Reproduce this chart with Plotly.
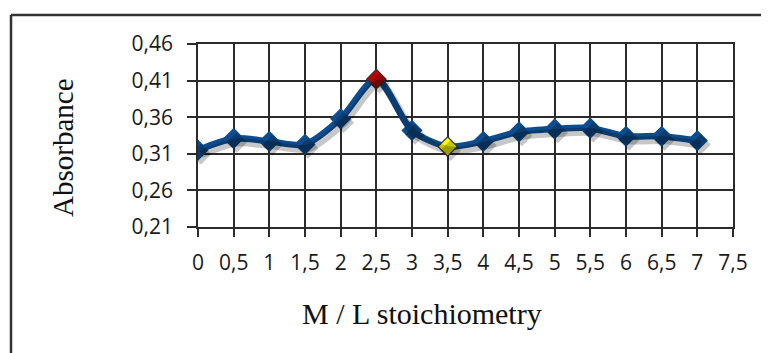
import plotly.graph_objects as go

# ---- data ----
ratio = [0, 0.5, 1, 1.5, 2, 2.5, 3, 3.5, 4, 4.5, 5, 5.5, 6, 6.5, 7]
absorbance = [0.315, 0.331, 0.327, 0.323, 0.358, 0.412, 0.342, 0.320,
              0.327, 0.340, 0.344, 0.345, 0.334, 0.334, 0.328]
highlight = {2.5: "#c00000", 3.5: "#ffff00"}

x_tick_vals = [0, 0.5, 1, 1.5, 2, 2.5, 3, 3.5, 4, 4.5, 5, 5.5, 6, 6.5, 7, 7.5]
x_tick_text = ["0", "0,5", "1", "1,5", "2", "2,5", "3", "3,5", "4", "4,5",
               "5", "5,5", "6", "6,5", "7", "7,5"]
y_tick_vals = [0.21, 0.26, 0.31, 0.36, 0.41, 0.46]
y_tick_text = ["0,21", "0,26", "0,31", "0,36", "0,41", "0,46"]

x_title = "M / L stoichiometry"
y_title = "Absorbance"

# ---- styling ----
OFF = 8                      # page body margin around the figure
W, H = 769 - OFF, 353 - OFF
L, T = 198 - OFF, 44 - OFF   # plot area in page coords: x 198..733, y 44..227
pw, ph = 733 - 198, 227 - 44
R, B = W - L - pw, H - T - ph
blue = "#0d4d8f"
grid = "#2b2b2b"
xr = [0, 7.5]
yr = [0.21, 0.46]


def px(x):  # page x pixel -> paper
    return (x - OFF - L) / pw


def py(y):  # page y pixel -> paper
    return (T + ph - (y - OFF)) / ph


# shadow offset (pixels -> data units)
sdx = 3 / pw * (xr[1] - xr[0])
sdy = 4 / ph * (yr[1] - yr[0])

marker_colors = [highlight.get(v, blue) for v in ratio]
marker_lines = ["#333333" if v in highlight else blue for v in ratio]

fig = go.Figure()
fig.add_trace(go.Scatter(
    x=ratio, y=absorbance, mode="lines+markers",
    xaxis="x2", yaxis="y2",
    line=dict(color="rgba(0,0,0,0.22)", width=8, shape="spline", smoothing=0.8),
    marker=dict(symbol="diamond", size=16, color="rgba(0,0,0,0.22)"),
    hoverinfo="skip", showlegend=False,
))
fig.add_trace(go.Scatter(
    x=ratio, y=absorbance, mode="lines+markers",
    line=dict(color=blue, width=6.5, shape="spline", smoothing=0.8),
    marker=dict(symbol="diamond", size=15, color=marker_colors,
                line=dict(color=marker_lines, width=1.2)),
    showlegend=False,
))

tickfont = dict(family="Open Sans, sans-serif", size=21, color="#1a1a1a")
fig.update_layout(
    width=W, height=H,
    margin=dict(l=L, r=R, t=T, b=B),
    paper_bgcolor="white", plot_bgcolor="white",
    xaxis=dict(range=xr, tickvals=x_tick_vals, ticktext=x_tick_text,
               showgrid=True, gridcolor=grid, gridwidth=1.5,
               showline=True, linecolor=grid, linewidth=1.5, mirror=True,
               ticks="outside", ticklen=8, tickwidth=1.5, tickcolor=grid,
               tickfont=tickfont, ticklabelstandoff=8, zeroline=False),
    yaxis=dict(range=yr, tickvals=y_tick_vals, ticktext=y_tick_text,
               showgrid=True, gridcolor=grid, gridwidth=1.5,
               showline=True, linecolor=grid, linewidth=1.5, mirror=True,
               ticks="outside", ticklen=9, tickwidth=1.5, tickcolor=grid,
               tickfont=tickfont, ticklabelstandoff=10, zeroline=False),
    xaxis2=dict(range=[xr[0] - sdx, xr[1] - sdx], overlaying="x", visible=False),
    yaxis2=dict(range=[yr[0] + sdy, yr[1] + sdy], overlaying="y", visible=False),
    shapes=[
        dict(type="line", xref="paper", yref="paper",
             x0=px(11), x1=px(780), y0=py(15), y1=py(15),
             line=dict(color="#333333", width=2.5)),
        dict(type="line", xref="paper", yref="paper",
             x0=px(11), x1=px(11), y0=py(15), y1=py(370),
             line=dict(color="#333333", width=2.5)),
    ],
    annotations=[
        dict(text=y_title, xref="paper", yref="paper",
             x=px(63), y=py(148), textangle=-90,
             showarrow=False, xanchor="center", yanchor="middle",
             font=dict(family="Liberation Serif, Times New Roman, serif", size=29, color="#111111")),
        dict(text=x_title, xref="paper", yref="paper",
             x=px(422), y=py(313),
             showarrow=False, xanchor="center", yanchor="middle",
             font=dict(family="Liberation Serif, Times New Roman, serif", size=30, color="#111111")),
    ],
)

fig.write_html("out.html")
